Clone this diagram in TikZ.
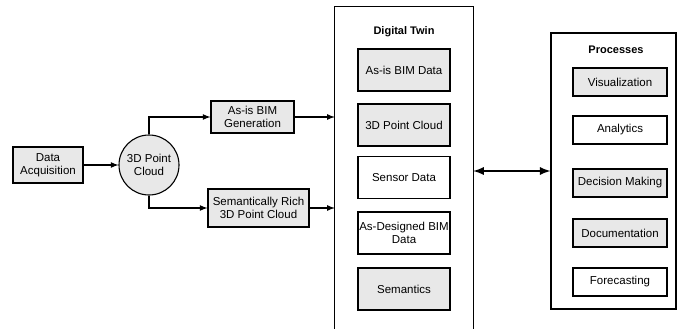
\documentclass[tikz,border=0pt]{standalone}
\usepackage{fontspec}
\setmainfont{Liberation Sans}
\usetikzlibrary{shapes, arrows, positioning, shapes.geometric, calc}

\begin{document}
\begin{tikzpicture}[x=1pt, y=-1pt, >=latex, every node/.style={font=\fontsize{11.5}{13.5}\selectfont}]
    \tikzstyle{block} = [draw, rectangle, fill=gray!18, line width=1.1pt, inner sep=1pt, align=center]
    \tikzstyle{twinbox} = [block, minimum width=92, minimum height=42]
    \tikzstyle{procbox} = [block, minimum width=94, minimum height=28]
    \tikzstyle{heading} = [font=\fontsize{11}{13}\selectfont\bfseries]

    \useasboundingbox (0,0) rectangle (677,329);

    % left chain
    \node[block, minimum width=70, minimum height=36] (acq) at (48,165) {Data\\Acquisition};
    \node[draw, circle, fill=gray!18, line width=1.1pt, minimum size=60, inner sep=0pt, align=center] (cloud) at (149,165) {3D Point\\Cloud};
    \node[block, minimum width=83, minimum height=32] (asisgen) at (252.5,117) {As-is BIM\\Generation};
    \node[block, minimum width=101, minimum height=38] (richcloud) at (258.5,208) {Semantically Rich\\3D Point Cloud};

    % digital twin panel
    \node[minimum width=138, minimum height=322, inner sep=0pt] (twin) at (404,168) {};
    \draw[line width=1.1pt] (twin.south west) |- (twin.north east) -- (twin.south east);
    \node[heading] (twintitle) at (404,32) {Digital Twin};
    \node[twinbox] (asisdata) at (404,70) {As-is BIM Data};
    \node[twinbox] (pointcloud) at (404,125) {3D Point Cloud};
    \node[twinbox, fill=white] (sensor) at (404,177.5) {Sensor Data};
    \node[twinbox, fill=white] (designed) at (404,233) {As-Designed BIM\\Data};
    \node[twinbox] (semantics) at (404,289) {Semantics};

    % processes panel
    \node[draw, line width=1.1pt, minimum width=125, minimum height=276, inner sep=0pt] (procs) at (613.5,171) {};
    \node[heading] (procstitle) at (616,50) {Processes};
    \node[procbox] (visual) at (620,82) {Visualization};
    \node[procbox, fill=white] (analytics) at (620,130) {Analytics};
    \node[procbox] (decision) at (620,183) {Decision Making};
    \node[procbox] (docu) at (620,233) {Documentation};
    \node[procbox, fill=white] (forecast) at (620,282) {Forecasting};

    \draw[->, line width=1.6pt] (acq) -- (cloud);
    \draw[->, line width=1.6pt] (cloud.north) |- (asisgen.west);
    \draw[->, line width=1.6pt] (cloud.south) |- (richcloud.west);
    \draw[->, line width=1.6pt] (asisgen.east) -- (asisgen.east -| twin.west);
    \draw[->, line width=1.6pt] (richcloud.east) -- (richcloud.east -| twin.west);
    \draw[<->, line width=2.6pt] (twin.east |- procs.west) -- (procs.west);
\end{tikzpicture}
\end{document}
